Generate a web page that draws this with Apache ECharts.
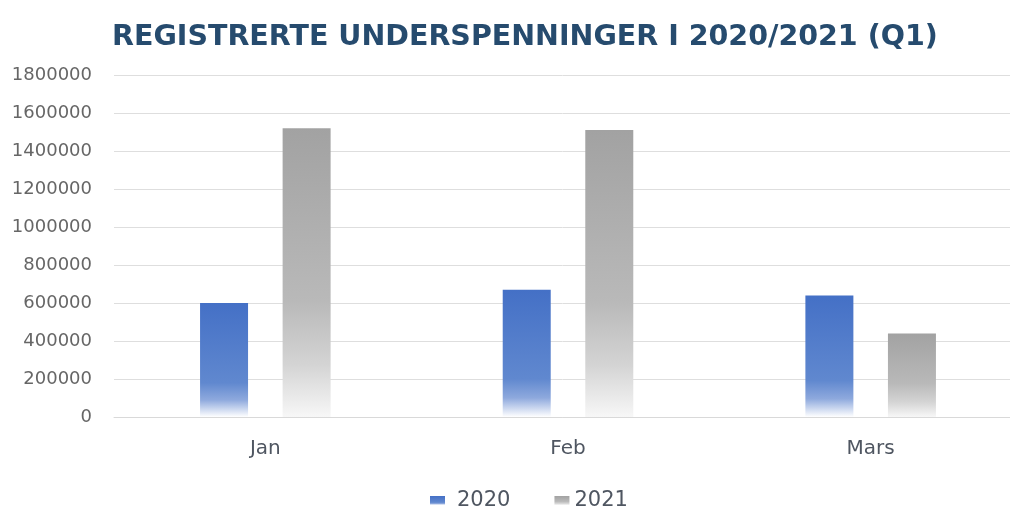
<!DOCTYPE html>
<html>
<head>
<meta charset="utf-8">
<script src="https://cdn.jsdelivr.net/npm/echarts@6/dist/echarts.min.js"></script>
<style>
  html, body { margin: 0; padding: 0; background: #ffffff; }
  #chart { width: 1010px; height: 512px; }
</style>
</head>
<body>
<div id="chart"></div>
<script>
// Månedlige registreringer, første kvartal
const categories = ['Jan', 'Feb', 'Mars'];
const values2020 = [600000, 670000, 640000];
const values2021 = [1520000, 1510000, 440000];
const seriesNames = ['2020', '2021'];

const blueFill = new echarts.graphic.LinearGradient(0, 0, 0, 1, [
  { offset: 0, color: '#4470c6' },
  { offset: 0.7, color: '#6088cf' },
  { offset: 0.85, color: '#8ea9dd' },
  { offset: 1, color: '#ffffff' }
]);
const grayFill = new echarts.graphic.LinearGradient(0, 0, 0, 1, [
  { offset: 0, color: '#a2a2a2' },
  { offset: 0.6, color: '#b9b9b9' },
  { offset: 0.82, color: '#d4d4d4' },
  { offset: 1, color: '#f7f7f7' }
]);

const chart = echarts.init(document.getElementById('chart'));
chart.setOption({
  animation: false,
  backgroundColor: '#ffffff',
  title: {
    text: 'REGISTRERTE UNDERSPENNINGER I 2020/2021 (Q1)',
    left: 107,
    top: 18,
    textStyle: {
      fontFamily: 'DejaVu Sans',
      fontWeight: 'bold',
      fontSize: 28.5,
      color: '#264b6e'
    }
  },
  legend: {
    data: [
      { name: seriesNames[0], textStyle: { padding: [0, 0, 0, 7] } },
      { name: seriesNames[1], textStyle: { padding: [0, 0, 0, 0] } }
    ],
    left: 425,
    top: 485,
    itemWidth: 15,
    itemHeight: 9,
    itemGap: 44,
    icon: 'rect',
    textStyle: {
      fontFamily: 'DejaVu Sans',
      fontSize: 21,
      color: '#4f5661'
    }
  },
  // the plot runs slightly past the right edge of the canvas
  grid: { left: 114, width: 908, top: 75, bottom: 95, outerBoundsMode: 'none' },
  xAxis: {
    type: 'category',
    data: categories,
    axisTick: { show: false },
    axisLine: { lineStyle: { color: '#d9d9d9', width: 1 } },
    axisLabel: { fontFamily: 'DejaVu Sans', fontSize: 20, color: '#4f5661', margin: 22 }
  },
  yAxis: {
    type: 'value',
    min: 0,
    max: 1800000,
    interval: 200000,
    axisLine: { show: false },
    axisTick: { show: false },
    splitLine: { lineStyle: { color: '#dedede', width: 1 } },
    axisLabel: {
      fontFamily: 'DejaVu Sans',
      fontSize: 18,
      color: '#666666',
      margin: 22,
      formatter: (v) => String(v)
    }
  },
  series: [
    {
      name: seriesNames[0],
      type: 'bar',
      data: values2020,
      barWidth: 48,
      barGap: '72%',
      itemStyle: { color: blueFill }
    },
    {
      name: seriesNames[1],
      type: 'bar',
      data: values2021,
      barWidth: 48,
      itemStyle: { color: grayFill }
    }
  ]
});
</script>
</body>
</html>
